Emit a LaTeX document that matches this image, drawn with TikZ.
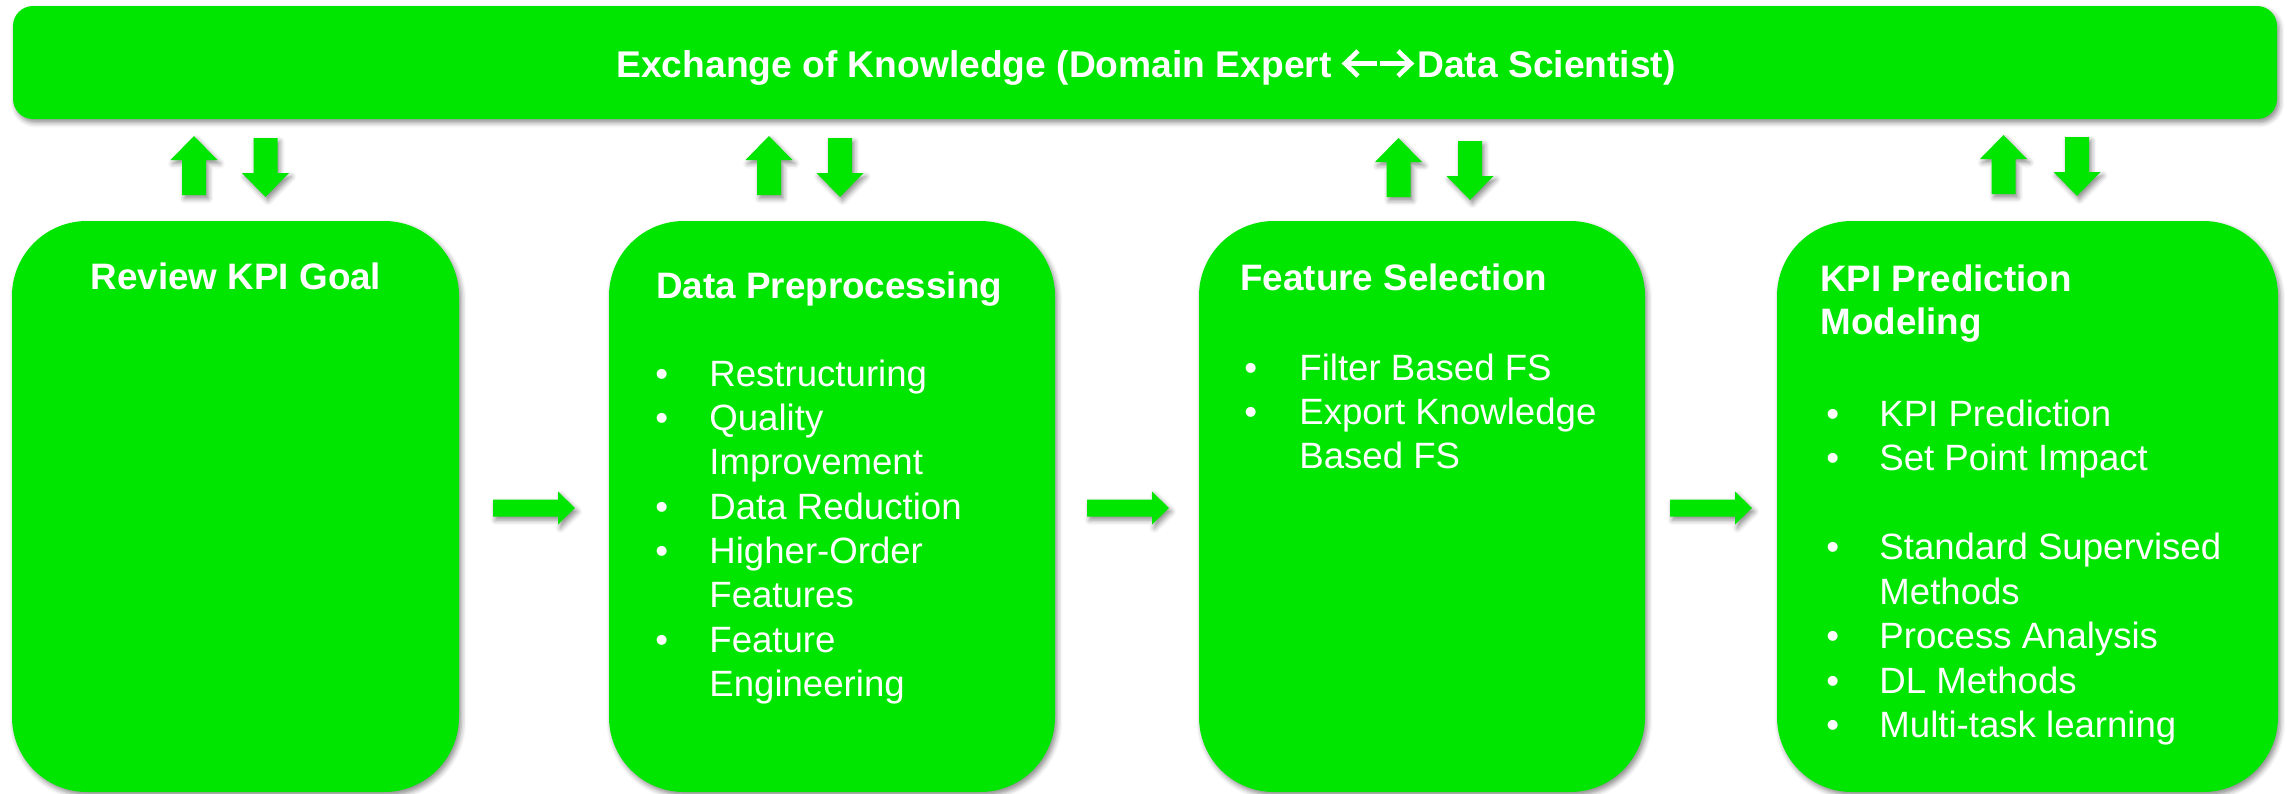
\documentclass[tikz,border=0pt]{standalone}
\usepackage{fontspec}
\setmainfont{Liberation Sans}
\usetikzlibrary{shadows.blur}
\definecolor{kgreen}{RGB}{0,230,0}

\begin{document}
\begin{tikzpicture}[x=0.5pt,y=-0.5pt,
  softshadow/.style={blur shadow={shadow xshift=1.2pt,shadow yshift=-1.8pt,
      shadow blur radius=2.5pt,shadow opacity=45}},
  panel/.style={fill=kgreen,draw=none,rounded corners=37.5pt,softshadow,
      inner sep=0pt,minimum height=285.5pt},
  topbar/.style={fill=kgreen,draw=none,rounded corners=10pt,softshadow,
      inner sep=0pt,minimum width=1132pt,minimum height=56.5pt},
  headtxt/.style={text=white,inner sep=0pt,
      font=\bfseries\fontsize{18.4}{22}\selectfont},
  titletxt/.style={text=white,inner sep=0pt,
      font=\bfseries\fontsize{18.6}{22}\selectfont},
  itemtxt/.style={text=white,inner sep=0pt,anchor=base west,
      font=\fontsize{18.3}{22}\selectfont},
  thinarrow/.style={draw=white,line width=2.3pt,line cap=butt,line join=miter},
  blockarrow/.style={fill=kgreen,draw=none,softshadow},
  pics/uparr/.style={code={
      \path[blockarrow] (0,0) -- (23.5,24) -- (12,24) -- (12,59)
        -- (-12,59) -- (-12,24) -- (-23.5,24) -- cycle;}},
  pics/downarr/.style={code={
      \path[blockarrow] (-12,0) -- (12,0) -- (12,35) -- (23.5,35)
        -- (0,59) -- (-23.5,35) -- (-12,35) -- cycle;}},
  pics/rightarr/.style={code={
      \path[blockarrow] (0,-8.5) -- (65,-8.5) -- (65,-16.5) -- (82,0)
        -- (65,16.5) -- (65,8.5) -- (0,8.5) -- cycle;}},
]
\useasboundingbox (0,0) rectangle (2287,793);

% knowledge exchange bar
\node[topbar] (bar) at (1145,62.5) {};
\node[titletxt,anchor=base east] (bartxtL) at (1332,77)
  {Exchange of Knowledge (Domain Expert};
\node[titletxt,anchor=base west] (bartxtR) at (1417,77)
  {Data Scientist)};
% the two-way arrow between the two roles
\coordinate (la) at (1345,63.5);
\coordinate (ra) at (1411,63.5);
\draw[thinarrow] (1377,63.5) -- (la);
\draw[thinarrow] (1358,51) -- (la) -- (1358,76);
\draw[thinarrow] (1380,63.5) -- (ra);
\draw[thinarrow] (1398,51) -- (ra) -- (1398,76);

% process stages
\node[panel,minimum width=223.5pt] (s1) at (235.5,506.5) {};
\node[panel,minimum width=223pt]   (s2) at (832,506.5) {};
\node[panel,minimum width=223pt]   (s3) at (1422,506.5) {};
\node[panel,minimum width=250.5pt] (s4) at (2027.5,506.5) {};

% exchange arrows between bar and stages
\pic at (194,136)    {uparr};   \pic at (265.5,138) {downarr};
\pic at (769,136)    {uparr};   \pic at (840,138)   {downarr};
\pic at (1398.5,138) {uparr};   \pic at (1470,141)  {downarr};
\pic at (2003.5,135) {uparr};   \pic at (2077,137)  {downarr};

% flow arrows between stages
\pic at (493,508)  {rightarr};
\pic at (1087,508) {rightarr};
\pic at (1670,508) {rightarr};

% stage 1
\node[headtxt,anchor=base] (h1) at (236,289) {Review KPI Goal};

% stage 2
\node[headtxt,anchor=base west] (h2) at (656,298) {Data Preprocessing};
\foreach \yy [count=\i] in {386,430,519,563,652}
  \node[itemtxt] (d2b\i) at (655,\yy) {•};
\foreach \yy/\tt [count=\i] in {386/Restructuring,430/Quality,474/Improvement,
    519/Data Reduction,563/Higher-Order,607/Features,652/Feature,696/Engineering}
  \node[itemtxt] (d2t\i) at (709,\yy) {\tt};

% stage 3
\node[headtxt,anchor=base west] (h3) at (1240,290) {Feature Selection};
\foreach \yy [count=\i] in {380,424}
  \node[itemtxt] (d3b\i) at (1244,\yy) {•};
\foreach \yy/\tt [count=\i] in {380/Filter Based FS,424/Export Knowledge,468/Based FS}
  \node[itemtxt] (d3t\i) at (1299,\yy) {\tt};

% stage 4
\node[headtxt,anchor=base west] (h4a) at (1820,291) {KPI Prediction};
\node[headtxt,anchor=base west] (h4b) at (1820,334) {Modeling};
\foreach \yy [count=\i] in {426,470,559,648,693,737}
  \node[itemtxt] (d4b\i) at (1826,\yy) {•};
\foreach \yy/\tt [count=\i] in {426/KPI Prediction,470/Set Point Impact,
    559/Standard Supervised,604/Methods,648/Process Analysis,693/DL Methods,
    737/Multi-task learning}
  \node[itemtxt] (d4t\i) at (1879,\yy) {\tt};
\end{tikzpicture}
\end{document}
